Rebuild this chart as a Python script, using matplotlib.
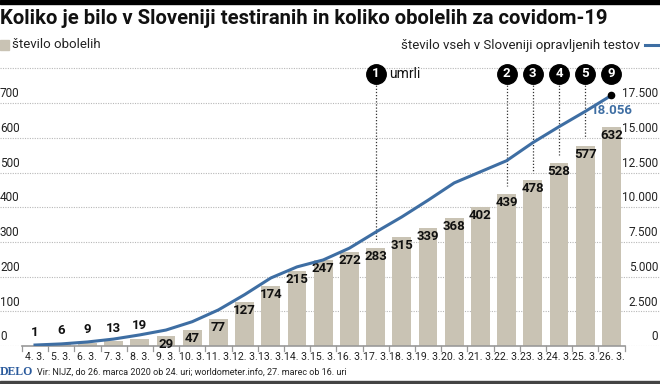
import matplotlib
matplotlib.use("Agg")
import matplotlib.pyplot as plt
from matplotlib.patches import Rectangle
from matplotlib.lines import Line2D

plt.rcParams['font.family'] = ['Liberation Sans Narrow', 'Roboto', 'DejaVu Sans']

dates = ['4. 3.', '5. 3.', '6. 3.', '7. 3.', '8. 3.', '9. 3.', '10. 3.', '11. 3.',
         '12. 3.', '13. 3.', '14. 3.', '15. 3.', '16. 3.', '17. 3.', '18. 3.',
         '19. 3.', '20. 3.', '21. 3.', '22. 3.', '23. 3.', '24. 3.', '25. 3.', '26. 3.']
cases = [1, 6, 9, 13, 19, 29, 47, 77, 127, 174, 215, 247, 272, 283, 315, 339,
         368, 402, 439, 478, 528, 577, 632]
tests = [70, 150, 290, 500, 800, 1150, 1750, 2600, 3700, 4900, 5700, 6200, 7050,
         8200, 9300, 10500, 11750, 12550, 13350, 14650, 15800, 16900, 18056]
# deaths markers: date index -> number
events = {13: '1', 18: '2', 19: '3', 20: '4', 21: '5', 22: '9'}

left_ticks = [0, 100, 200, 300, 400, 500, 600, 700]
right_labels = ['0', '2.500', '5.000', '7.500', '10.000', '12.500', '15.000', '17.500']

BAR = '#c9c3b4'
BLUE = '#3e6ea3'

W, H = 660, 384
fig = plt.figure(figsize=(6.6, 3.84), dpi=100)

# axes: bottom (0 level) at y=346 px, top at y=62 px, full width
ax = fig.add_axes([0, (H - 346) / H, 1, (346 - 62) / H])
x = list(range(len(dates)))
ax.set_xlim(-35 / 26.2, (660 - 35) / 26.2)
ymax = (346 - 62) / 0.347
ax.set_ylim(0, ymax)
for s in ax.spines.values():
    s.set_visible(False)
ax.set_xticks([])
ax.set_yticks([])

# dotted gridlines
for v in left_ticks + [800]:
    ax.axhline(v, color='#b8b8b8', lw=0.8, ls=(0, (1, 1.2)), zorder=0)
for v in left_ticks:
    ax.text(0.0, v + 8, str(v), transform=ax.get_yaxis_transform(),
            ha='left', va='bottom', fontsize=8.5, color='#222222')

bars = ax.bar(x, cases, width=0.72, color=BAR, zorder=2)
for i, v in enumerate(cases):
    if v < 25:
        ax.annotate(str(v), (i, v), xytext=(0, 5), textcoords='offset points',
                    ha='center', va='bottom', fontsize=9.5, fontweight='bold', color='#111111', zorder=5)
    else:
        ax.annotate(str(v), (i, v), xytext=(0, -1.5), textcoords='offset points',
                    ha='center', va='top', fontsize=9.5, fontweight='bold', color='#111111', zorder=5)

# x axis line and boundary ticks
ax.plot([-0.5, len(dates) - 0.5], [0, 0], color='#999999', lw=1.2, zorder=3, clip_on=False)
for b in range(len(dates) + 1):
    ax.plot([b - 0.5, b - 0.5], [0, -14], color='#999999', lw=0.9, clip_on=False, zorder=3)
for i, d in enumerate(dates):
    ax.text(i, -16, d, ha='center', va='top', fontsize=7.6, color='#222222')

# tests line on twin scale
ax2 = ax.twinx()
ax2.set_ylim(0, ymax * 25)
for s in ax2.spines.values():
    s.set_visible(False)
ax2.set_yticks([])
ax2.plot(x, tests, color=BLUE, lw=2.2, zorder=4)
ax2.plot([x[-1]], [tests[-1]], 'o', color='black', ms=4.5, zorder=6)
ax2.annotate('18.056', (x[-1], tests[-1]), xytext=(0, -6), textcoords='offset points',
             ha='center', va='top', fontsize=9.5, fontweight='bold', color=BLUE)
for v, lab in zip(left_ticks, right_labels):
    ax.text(0.997, v + 8, lab, transform=ax.get_yaxis_transform(),
            ha='right', va='bottom', fontsize=8.5, color='#222222')

# event markers
for i, lab in events.items():
    ax.plot([i], [784], 'o', ms=14, color='black', zorder=7, clip_on=False)
    ax.text(i, 784, lab, ha='center', va='center', color='white', fontsize=9.5,
            fontweight='bold', zorder=8)
    if lab != '9':
        ax.plot([i, i], [762, cases[i] + 22], color='#333333', lw=0.9,
                ls=(0, (1, 1.5)), zorder=4)
ax.text(13 + 0.5, 784, 'umrli', ha='left', va='center', fontsize=10, color='#111111')

# header
fig.add_artist(Rectangle((0, 1 - 4 / H), 1, 4 / H, transform=fig.transFigure,
                         color='black', zorder=10))
fig.text(0.0, 1 - 19 / H, 'Koliko je bilo v Sloveniji testiranih in koliko obolelih za covidom-19',
         ha='left', va='center', fontsize=14.6, fontweight='bold', color='#111111')
fig.add_artist(Rectangle((0, 1 - 50 / H), 9 / W, 10 / H, transform=fig.transFigure,
                         color=BAR))
fig.text(12 / W, 1 - 45 / H, 'število obolelih', ha='left', va='center', fontsize=9.5,
         color='#222222')
fig.text(640 / W, 1 - 45 / H, 'število vseh v Sloveniji opravljenih testov', ha='right',
         va='center', fontsize=9.5, color='#222222')
fig.add_artist(Line2D([645 / W, 659 / W], [1 - 45 / H, 1 - 45 / H], transform=fig.transFigure,
                      color=BLUE, lw=2.2))

# footer
fig.text(0.0, 1 - 372 / H, 'DELO', ha='left', va='center', fontsize=8.5,
         fontweight='bold', family=['Liberation Serif', 'DejaVu Serif'], color='#2a5a9c')
fig.text(37 / W, 1 - 372 / H,
         'Vir: NIJZ, do 26. marca 2020 ob 24. uri; worldometer.info, 27. marec ob 16. uri',
         ha='left', va='center', fontsize=6.5, color='#222222')
fig.add_artist(Rectangle((0, 0), 1, 3 / H, transform=fig.transFigure, color='#444444'))

fig.savefig('out.png', dpi=100)
